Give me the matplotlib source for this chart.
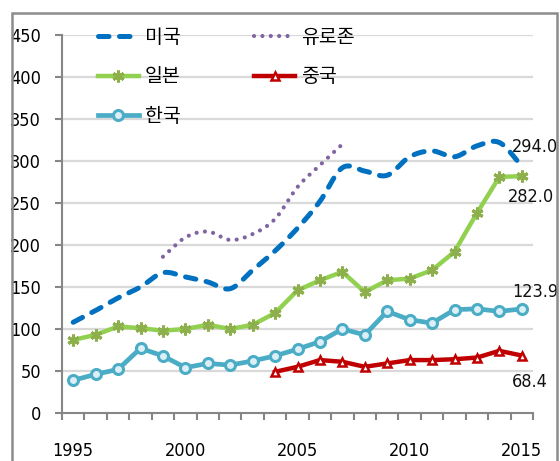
import numpy as np
import matplotlib
matplotlib.use("Agg")
import matplotlib.pyplot as plt
from matplotlib.patches import Rectangle

years = list(range(1995, 2016))

us = [108, 122, 137, 150, 167, 162, 156, 148, 170, 193, 220, 252, 292, 288, 283, 305, 312, 305, 318, 322, 294.0]
euro_years = list(range(1999, 2008))
euro = [186, 209, 216, 206, 213, 231, 269, 295, 320]
japan = [87, 93, 103, 101, 98, 100, 105, 100, 105, 119, 146, 158, 168, 144, 158, 160, 170, 192, 238, 281, 282.0]
china_years = list(range(2004, 2016))
china = [49, 55, 63, 61, 55, 59, 63, 63, 64, 66, 74, 68.4]
korea = [39, 46, 52, 77, 68, 54, 59, 57, 62, 68, 76, 85, 100, 93, 121, 111, 107, 123, 124, 121, 123.9]

end_labels = ["294.0", "282.0", "123.9", "68.4"]
end_values = [us[-1], japan[-1], korea[-1], china[-1]]
label_offsets = [(-10, 19), (-14, -21), (-10, 17), (-10, -26)]

y_ticks = list(range(0, 451, 50))
x_label_years = [1995, 2000, 2005, 2010, 2015]

num_font = {"family": "DejaVu Sans", "stretch": "condensed", "size": 13}
kr_font = ["Noto Sans CJK KR", "DejaVu Sans"]


def smooth(x, y, n=24):
    # Catmull-Rom curve through the points, like Excel's smoothed line
    x = np.asarray(x, float)
    y = np.asarray(y, float)
    px = np.concatenate([[2 * x[0] - x[1]], x, [2 * x[-1] - x[-2]]])
    py = np.concatenate([[2 * y[0] - y[1]], y, [2 * y[-1] - y[-2]]])
    t = np.linspace(0, 1, n, endpoint=False)[:, None]
    xs, ys = [], []
    for i in range(1, len(px) - 2):
        for p, out in ((px, xs), (py, ys)):
            p0, p1, p2, p3 = p[i - 1], p[i], p[i + 1], p[i + 2]
            v = 0.5 * (2 * p1 + (-p0 + p2) * t + (2 * p0 - 5 * p1 + 4 * p2 - p3) * t ** 2
                       + (-p0 + 3 * p1 - 3 * p2 + p3) * t ** 3)
            out.extend(v.ravel())
    xs.append(x[-1])
    ys.append(y[-1])
    return np.array(xs), np.array(ys)


fig = plt.figure(figsize=(5.6, 4.61), dpi=100)
ax = fig.add_axes([62 / 560, 1 - 413 / 461, (533 - 62) / 560, (413 - 35) / 461])

ax.set_xlim(1994.5, 2015.5)
ax.set_ylim(0, 450)

for v in y_ticks[1:]:
    ax.axhline(v, color="#D9D9D9", lw=1.6, zorder=0)

sx, sy = smooth(years, us)
l_us, = ax.plot(sx, sy, color="#0070C0", lw=3.6, dash_capstyle="round", label="미국", zorder=3)
l_us.set_dashes((2.1, 2.1))

ex, ey = smooth(euro_years, euro)
l_eu, = ax.plot(ex, ey, color="#8064A2", lw=3.0, dash_capstyle="round", label="유로존", zorder=3)
l_eu.set_dashes((0.01, 2.0))

l_jp, = ax.plot(years, japan, color="#92D050", lw=3.2, marker=(6, 2, 0), ms=8.5,
                mec="#8DB04C", mew=2.2, label="일본", zorder=4)
l_cn, = ax.plot(china_years, china, color="#C00000", lw=3.2, marker="^", ms=6,
                mfc="white", mec="#C00000", mew=1.8, label="중국", zorder=4)
l_kr, = ax.plot(years, korea, color="#4BACC6", lw=3.4, marker="o", ms=7.2,
                mfc="#DDEFF6", mec="#4BACC6", mew=2.2, label="한국", zorder=4)

for txt, val, off in zip(end_labels, end_values, label_offsets):
    ax.annotate(txt, xy=(2015, val), xytext=off, textcoords="offset pixels",
                ha="left", va="center", fontproperties=num_font, color="#111111")

for s in ["top", "right"]:
    ax.spines[s].set_visible(False)
for s in ["left", "bottom"]:
    ax.spines[s].set_color("#868686")
    ax.spines[s].set_linewidth(1.5)

ax.set_yticks(y_ticks)
ax.set_yticklabels([str(v) for v in y_ticks], fontproperties=num_font)
ax.tick_params(axis="y", direction="out", length=5, width=1.5, color="#868686", pad=10)

ax.set_xticks(x_label_years)
ax.set_xticklabels([str(v) for v in x_label_years], fontproperties=num_font)
ax.set_xticks(np.arange(1994.5, 2015.6, 1.0), minor=True)
ax.tick_params(axis="x", which="major", length=0, pad=21)
ax.tick_params(axis="x", which="minor", direction="out", length=5, width=1.5, color="#868686")

leg = fig.legend(handles=[l_us, l_jp, l_kr, l_eu, l_cn], ncol=2, loc="upper left",
                 bbox_to_anchor=(98 / 560, 1 - 27 / 461), frameon=False,
                 prop={"family": kr_font, "size": 14}, borderpad=0, borderaxespad=0,
                 handlelength=2.1, handletextpad=0.3, labelspacing=0.95,
                 columnspacing=3.8, numpoints=1)

fig.patches.append(Rectangle((12 / 560, -0.1), (557 - 12) / 560, 1.1 - 13 / 461,
                             transform=fig.transFigure, fill=False, ec="#8C8C8C", lw=1.8))

fig.savefig("out.png", dpi=100)
